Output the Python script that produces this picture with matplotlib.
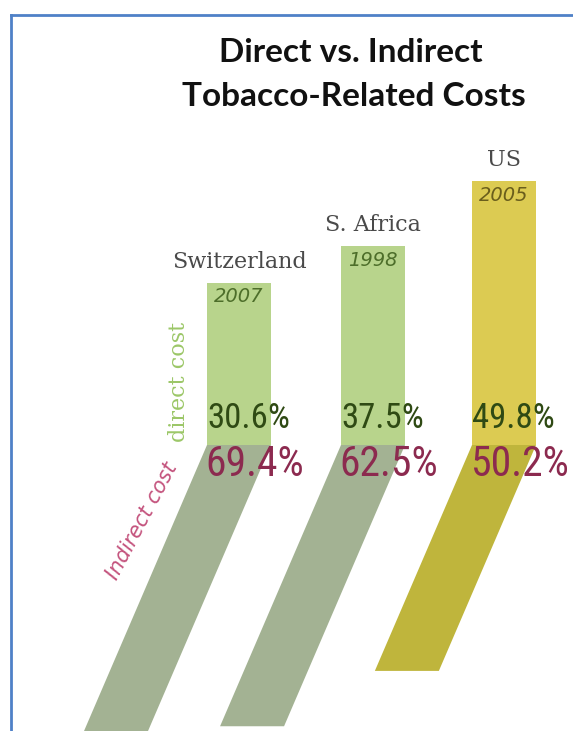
import matplotlib
matplotlib.use("Agg")
import matplotlib.pyplot as plt
from matplotlib.lines import Line2D

countries = ["Switzerland", "S. Africa", "US"]
years = ["2007", "1998", "2005"]
direct = [30.6, 37.5, 49.8]
indirect = [69.4, 62.5, 50.2]

bar_left = [207, 341, 472]
bar_width = 64
base = 445           # where the direct bar meets the indirect strip
px_direct = 5.3      # pixels per percent, upright bar
px_indirect = 4.5    # pixels per percent, slanted strip (vertical extent)
slant = 0.43         # horizontal shift per vertical pixel

bar_colors = ["#b8d48c", "#b8d48c", "#dccb52"]
strip_colors = ["#a3b293", "#a3b293", "#bfb53c"]
year_colors = ["#4d6e2a", "#4d6e2a", "#6a5e1c"]
pct_font = ["Roboto Condensed", "DejaVu Sans"]

fig = plt.figure(figsize=(5.73, 7.31), dpi=100)
ax = fig.add_axes([0, 0, 1, 1])
ax.set_xlim(0, 573)
ax.set_ylim(731, 0)
ax.axis("off")

# frame
fig.add_artist(Line2D([11 / 573, 11 / 573], [0, 1 - 15 / 731], color="#4f81c7", lw=2))
fig.add_artist(Line2D([11 / 573, 1], [1 - 15 / 731, 1 - 15 / 731], color="#4f81c7", lw=2))

ax.text(351, 53, "Direct vs. Indirect", ha="center", va="center",
        fontsize=24, fontweight="bold", family="Lato", color="#111111")
ax.text(354, 97, "Tobacco-Related Costs", ha="center", va="center",
        fontsize=24, fontweight="bold", family="Lato", color="#111111")

for i in range(len(countries)):
    x0 = bar_left[i]
    h = direct[i] * px_direct
    d = indirect[i] * px_indirect

    # indirect share as a slanted strip running down-left
    xs = [x0, x0 + bar_width, x0 + bar_width - slant * d, x0 - slant * d]
    ys = [base, base, base + d, base + d]
    ax.fill(xs, ys, color=strip_colors[i], lw=0, zorder=1)

    # direct share as an upright bar
    ax.bar(x0, -h, bottom=base, width=bar_width, align="edge",
           color=bar_colors[i], lw=0, zorder=2)

    top = base - h
    ax.text(x0 + bar_width / 2, top - 21, countries[i], ha="center", va="center",
            fontsize=16, family="DejaVu Serif", color="#4a4a4a", zorder=3)
    ax.text(x0 + bar_width / 2, top + 14, years[i], ha="center", va="center",
            fontsize=14, style="italic", family="DejaVu Sans", color=year_colors[i], zorder=3)

    ax.text(x0, base - 26, f"{direct[i]}%", ha="left", va="center",
            fontsize=25, family=pct_font, fontstretch="condensed",
            color="#2f4a14", zorder=3)
    ax.text(x0 - 2, base + 20, f"{indirect[i]}%", ha="left", va="center",
            fontsize=30, family=pct_font, fontstretch="condensed",
            color="#8c2a4f", zorder=3)

ax.text(179, 382, "direct cost", rotation=90, ha="center", va="center",
        fontsize=16, family="DejaVu Serif", color="#9cc768", zorder=3)
ax.text(142, 521, "Indirect cost", rotation=62, ha="center", va="center",
        fontsize=15, style="italic", family="DejaVu Sans", color="#c4537d", zorder=3)

fig.savefig("out.png", dpi=100)
